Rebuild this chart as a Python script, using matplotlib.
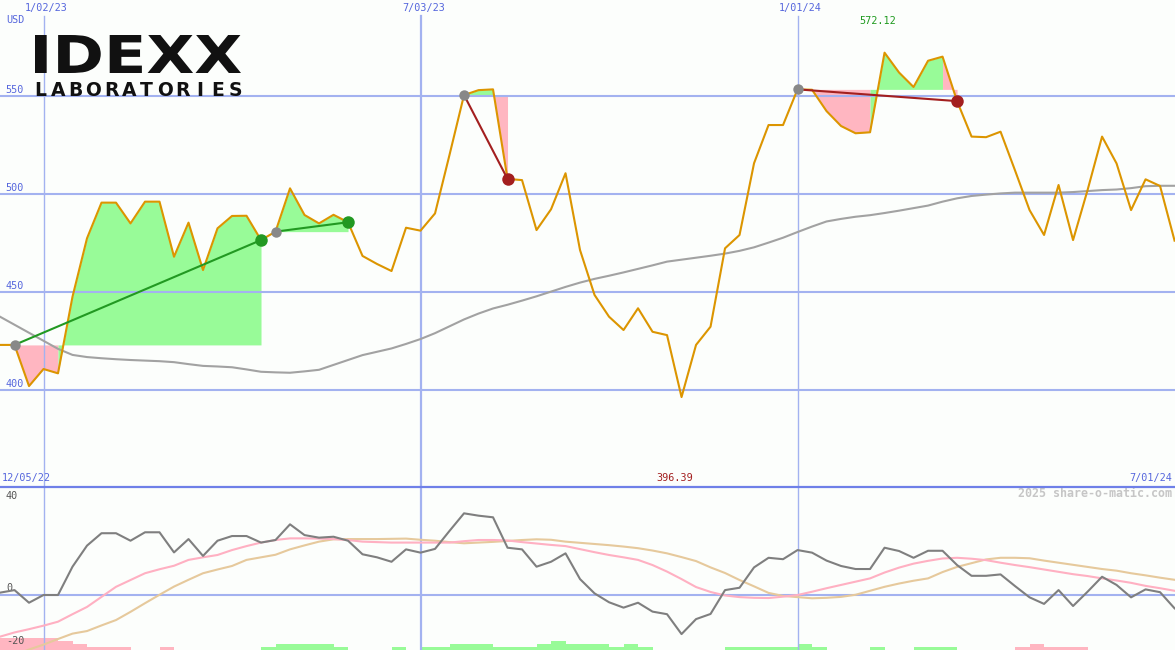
# weekly share chart with trade markers and an oscillator panel underneath
import matplotlib
matplotlib.use("Agg")
import matplotlib.pyplot as plt
from matplotlib.lines import Line2D
from matplotlib.patches import PathPatch
from matplotlib.textpath import TextPath
from matplotlib.font_manager import FontProperties
from matplotlib.transforms import Affine2D, IdentityTransform, blended_transform_factory

# week index, 0 = week of 1/02/23
weeks = list(range(-3, 79))

price = [423.0, 423.0, 402.0, 410.7, 408.5, 447.6, 477.4, 495.6, 495.6, 485.0,
         496.1, 496.1, 468.0, 485.4, 461.2, 482.5, 488.8, 488.9, 476.5, 480.8,
         502.9, 489.3, 485.0, 489.4, 485.6, 468.4, 464.3, 460.7, 482.8, 481.3,
         490.1, 520.0, 550.5, 553.0, 553.4, 507.7, 507.1, 481.6, 492.2, 510.6,
         471.4, 448.5, 437.4, 430.6, 441.7, 429.7, 428.0, 396.39, 423.0, 432.3,
         472.3, 479.1, 515.7, 535.2, 535.2, 553.4, 553.2, 542.3, 534.7, 531.0,
         531.5, 572.12, 562.0, 554.6, 568.0, 570.1, 547.4, 529.3, 529.0, 531.8,
         512.0, 491.8, 479.1, 504.6, 476.5, 502.0, 529.3, 515.6, 491.8, 507.5,
         504.1, 476.2]

moving_avg = [437.4, 433.3, 429.2, 425.1, 421.0, 417.9, 416.8, 416.2, 415.7, 415.3,
              415.0, 414.7, 414.2, 413.2, 412.3, 412.0, 411.6, 410.5, 409.3, 409.0,
              408.8, 409.5, 410.3, 412.8, 415.3, 417.8, 419.5, 421.2, 423.5, 426.0,
              429.0, 432.5, 436.0, 439.0, 441.6, 443.5, 445.6, 447.8, 450.2, 452.6,
              454.8, 456.7, 458.3, 460.0, 461.8, 463.6, 465.5, 466.5, 467.5, 468.5,
              469.6, 471.0, 472.8, 475.2, 477.7, 480.6, 483.4, 486.0, 487.3, 488.4,
              489.2, 490.3, 491.5, 492.8, 494.1, 496.1, 497.8, 499.0, 499.7, 500.3,
              500.7, 500.7, 500.7, 500.7, 501.0, 501.5, 502.0, 502.3, 503.0, 504.0,
              504.2, 504.2]

momentum = [1.0, 2.1, -3.3, 0.0, 0.0, 12.1, 21.1, 26.4, 26.4, 23.2,
            26.8, 26.8, 18.2, 23.9, 16.7, 23.2, 25.2, 25.2, 22.4, 23.5,
            30.2, 25.6, 24.5, 24.9, 23.2, 17.4, 16.1, 14.2, 19.5, 18.1,
            19.7, 27.4, 34.9, 33.9, 33.2, 20.2, 19.5, 12.1, 14.2, 17.8,
            6.8, 0.7, -3.1, -5.4, -3.3, -7.1, -8.2, -16.7, -10.3, -8.1,
            2.1, 3.1, 11.8, 15.9, 15.3, 19.2, 18.1, 14.7, 12.4, 11.1,
            11.1, 20.2, 18.8, 15.9, 18.9, 18.9, 12.8, 8.2, 8.2, 8.8,
            3.8, -1.0, -3.8, 2.1, -4.7, 1.4, 7.8, 4.3, -1.0, 2.4,
            1.2, -5.7]

mom_fast = [-17.8, -16.0, -14.6, -13.1, -11.4, -8.2, -5.1, -0.8, 3.5, 6.4,
            9.3, 11.0, 12.5, 15.0, 16.1, 17.1, 19.2, 20.9, 22.4, 23.5,
            24.2, 24.2, 24.1, 23.9, 23.5, 22.8, 22.6, 22.4, 22.4, 22.4,
            22.4, 22.4, 23.0, 23.5, 23.5, 23.3, 22.6, 22.0, 21.4, 20.9,
            19.6, 18.3, 17.1, 16.1, 15.0, 12.8, 10.0, 6.8, 3.4, 1.3,
            -0.2, -0.9, -1.2, -1.3, -0.7, 0.0, 1.4, 2.9, 4.3, 5.7,
            7.1, 9.6, 11.7, 13.4, 14.6, 15.6, 15.9, 15.5, 14.9, 13.8,
            12.8, 11.9, 10.9, 9.9, 8.9, 8.1, 7.1, 6.2, 5.2, 3.9,
            2.9, 1.8]

mom_slow = [-28.0, -25.8, -23.3, -21.2, -18.8, -16.5, -15.4, -13.0, -10.7, -7.2,
            -3.5, 0.1, 3.6, 6.5, 9.3, 10.9, 12.4, 15.0, 16.1, 17.2,
            19.5, 21.2, 22.8, 23.8, 23.9, 23.9, 23.9, 24.0, 24.1, 23.6,
            23.2, 22.6, 22.1, 22.4, 22.7, 23.1, 23.5, 23.8, 23.6, 22.8,
            22.3, 21.8, 21.3, 20.7, 20.0, 19.0, 17.8, 16.2, 14.5, 11.8,
            9.4, 6.4, 3.7, 0.9, -0.4, -0.9, -1.4, -1.2, -0.8, 0.1,
            1.8, 3.5, 4.9, 6.1, 7.1, 9.8, 12.0, 13.6, 15.2, 15.9,
            15.9, 15.7, 14.7, 13.8, 12.9, 12.0, 11.1, 10.4, 9.3, 8.4,
            7.4, 6.5]

# signal strength bars (+ green, - pink)
signal = [-4, -4, -4, -4, -3, -2, -1, -1, -1, 0,
          0, -1, 0, 0, 0, 0, 0, 0, 1, 2,
          2, 2, 2, 1, 0, 0, 0, 1, 0, 1,
          1, 2, 2, 2, 1, 1, 1, 2, 3, 2,
          2, 2, 1, 2, 1, 0, 0, 0, 0, 0,
          1, 1, 1, 1, 1, 2, 1, 0, 0, 0,
          1, 0, 0, 1, 1, 1, 0, 0, 0, 0,
          -1, -2, -1, -1, -1, 0, 0, 0, 0, 0,
          0, 0]

# (entry week, exit week)
trades = [(-2, 15), (16, 21), (29, 32), (52, 63)]

date_weeks = [0, 26, 52]
date_labels = ["1/02/23", "7/03/23", "1/01/24"]
price_grid = [400, 450, 500, 550]
start_label = "12/05/22"
end_label = "7/01/24"

bg = "#fcfefc"
grid = "#a3b2f0"
blue_txt = "#5566dd"
orange = "#dc9500"
green_fill = "#98fb98"
pink_fill = "#ffb6c1"
mono = "DejaVu Sans Mono"

W, H = 1175, 650
split = 163  # px height of lower panel

fig = plt.figure(figsize=(W / 100, H / 100), dpi=100, facecolor=bg)
ax1 = fig.add_axes([0, split / H, 1, 1 - split / H])
ax2 = fig.add_axes([0, 0, 1, split / H])
for ax in (ax1, ax2):
    ax.set_facecolor(bg)
    ax.set_xlim(-3, 78.03)
    ax.set_xticks([])
    ax.set_yticks([])
    for s in ax.spines.values():
        s.set_visible(False)

ax1.set_ylim(350.5, 599.0)
ax2.set_ylim(-23.5, 46.15)

idx = lambda k: k - weeks[0]

# ---- main panel ----
for v in price_grid:
    ax1.axhline(v, color=grid, lw=1.5, zorder=2)
    ax1.text(5 / W, v + 0.5, str(v), transform=blended_transform_factory(ax1.transAxes, ax1.transData),
             fontsize=7.3, family=mono, color=blue_txt, va="bottom", ha="left")
for k, lab in zip(date_weeks, date_labels):
    lw = 1.6 if lab.startswith("7") else 1.0
    ax1.axvline(k, ymin=0, ymax=(487 - 16) / 487, color=grid, lw=lw, zorder=2)
    ax2.axvline(k, color=grid, lw=lw, zorder=2)
    ax1.text(k + 0.2, 592.4, lab, fontsize=7.3, family=mono, color=blue_txt, ha="center", va="bottom")
ax1.text(6 / W, 586.2, "USD", transform=blended_transform_factory(ax1.transAxes, ax1.transData),
         fontsize=7.3, family=mono, color=blue_txt, va="bottom")

# trade fills: each week coloured by where it closes relative to the entry,
# runs of the same colour merged into one polygon
for a, b in trades:
    entry = price[idx(a)]
    cols = [green_fill if price[idx(k + 1)] >= entry else pink_fill for k in range(a, b)]
    start = a
    for j in range(1, len(cols) + 1):
        if j == len(cols) or cols[j] != cols[j - 1]:
            k0, k1 = start, a + j
            ax1.fill_between(weeks[idx(k0):idx(k1) + 1], price[idx(k0):idx(k1) + 1], entry,
                             color=cols[j - 1], lw=0, zorder=1)
            start = a + j

ax1.plot(weeks, moving_avg, color="#a2a2a2", lw=1.5, zorder=3)
ax1.plot(weeks, price, color=orange, lw=1.5, zorder=4)

for a, b in trades:
    pa, pb = price[idx(a)], price[idx(b)]
    col = "#229922" if pb > pa else "#a31f1f"
    ax1.plot([a, b], [pa, pb], color=col, lw=1.5, zorder=5)
    ax1.plot(a, pa, "o", color="#888888", ms=7.5, mec="none", zorder=6)
    ax1.plot(b, pb, "o", color=col, ms=9, mec="none", zorder=6)

hi = max(range(len(price)), key=lambda i: price[i])
lo = min(range(len(price)), key=lambda i: price[i])
ax1.text(weeks[hi] - 0.5, 588.3, f"{price[hi]:.2f}", fontsize=7.3, family=mono,
         color="#1f9a1f", ha="center", va="center")
ax1.text(weeks[lo] - 0.45, 352.6, f"{price[lo]:.2f}", fontsize=7.3, family=mono,
         color="#a31f1f", ha="center", va="bottom")
ax1.text(-2.9, 352.6, start_label, fontsize=7.3, family=mono, color=blue_txt, va="bottom")
ax1.text(77.85, 352.6, end_label, fontsize=7.3, family=mono, color=blue_txt, va="bottom", ha="right")

# ---- oscillator panel ----
ax2.axhline(0, color=grid, lw=1.5, zorder=2)
lab_tr = blended_transform_factory(ax2.transAxes, ax2.transData)
ax2.text(6 / W, 40.3, "40", transform=lab_tr, fontsize=7.3, family=mono, color="#555555", va="bottom")
ax2.text(6 / W, 1.0, "0", transform=lab_tr, fontsize=7.3, family=mono, color="#555555", va="bottom")

bar_unit = 3 / 2.34
ax2.bar(weeks, [abs(s) * bar_unit for s in signal], width=1, align="edge", bottom=-23.5,
        color=[green_fill if s > 0 else pink_fill for s in signal], lw=0,
        antialiased=False, zorder=1)
ax2.text(6 / W, -21.8, "-20", transform=lab_tr, fontsize=7.3, family=mono, color="#555555",
         va="bottom", zorder=3)

ax2.plot(weeks, mom_slow, color="#e6c99c", lw=1.5, zorder=3)
ax2.plot(weeks, mom_fast, color="#ffb0c2", lw=1.5, zorder=3)
ax2.plot(weeks, momentum, color="#7f7f7f", lw=1.5, zorder=4)
ax2.text(1172 / W, 40.6, "2025 share-o-matic.com", transform=lab_tr, fontsize=8.4,
         family=mono, weight="bold", color="#c6c6c6", ha="right", va="bottom")

fig.add_artist(Line2D([0, 1], [split / H, split / H], transform=fig.transFigure,
                      color="#6f80e8", lw=1.6))

# ---- logo ----
tp = TextPath((0, 0), "IDEXX", size=100, prop=FontProperties(family="DejaVu Sans", weight="bold"))
bb = tp.get_extents()
x0, x1, y0, y1 = 35, 241, 35, 73
tr = (Affine2D().translate(-bb.x0, -bb.y0)
      .scale((x1 - x0) / bb.width, (y1 - y0) / bb.height)
      .translate(x0, H - y1))
fig.add_artist(PathPatch(tr.transform_path(tp), facecolor="#111111", lw=0,
                         transform=IdentityTransform()))
for i, ch in enumerate("LABORATORIES"):
    fig.text((40 + 17.8 * i) / W, (H - 96) / H, ch, fontsize=13.5, weight="bold",
             family="DejaVu Sans", color="#111111", ha="center", va="baseline")

fig.savefig("out.png", dpi=100, facecolor=bg)
